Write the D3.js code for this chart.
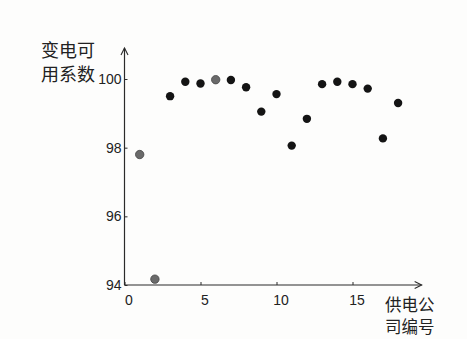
<!DOCTYPE html>
<html>
<head>
<meta charset="utf-8">
<script src="https://cdn.jsdelivr.net/npm/d3@7/dist/d3.min.js"></script>
<style>
  html, body { margin: 0; padding: 0; background: #fdfdfc; }
  svg { display: block; }
</style>
</head>
<body>
<svg id="chart" width="467" height="339"></svg>
<script>
// Transformer availability per power supply company
const companies = [1, 2, 3, 4, 5, 6, 7, 8, 9, 10, 11, 12, 13, 14, 15, 16, 17, 18];
const availability = [97.8, 94.17, 99.5, 99.92, 99.87, 99.98, 99.97, 99.76, 99.05, 99.56, 98.06, 98.84, 99.85, 99.92, 99.85, 99.72, 98.27, 99.3];
// companies drawn in a lighter grey
const lighter = [1, 2, 6];
const xTicks = [0, 5, 10, 15];
const yTicks = [94, 96, 98, 100];
const yTitle = ["变电可", "用系数"];
const xTitle = ["供电公", "司编号"];

const svg = d3.select("#chart");
const x = d3.scaleLinear().domain([0, 20]).range([124.5, 428.5]);
const y = d3.scaleLinear().domain([94, 100]).range([285, 79]);

const axisColor = "#2a2a2a";
const font = "'Liberation Sans', Arial, sans-serif";
const cjk = "'Noto Sans CJK SC', sans-serif";

// y axis with inward ticks
const yAxis = svg.append("g")
  .attr("transform", `translate(${x(0)},0)`)
  .call(d3.axisLeft(y).tickValues(yTicks).tickSize(-3).tickPadding(3).tickFormat(d3.format("d")));
yAxis.select(".domain").remove();
yAxis.selectAll(".tick line").attr("stroke", axisColor).attr("stroke-width", 1);
yAxis.selectAll(".tick text")
  .attr("fill", "#222").attr("font-family", font).attr("font-size", 14);

// x axis with inward ticks
const xAxis = svg.append("g")
  .attr("transform", `translate(0,${y(94)})`)
  .call(d3.axisBottom(x).tickValues(xTicks).tickSize(-3).tickPadding(10).tickFormat(d3.format("d")));
xAxis.select(".domain").remove();
xAxis.selectAll(".tick line").attr("stroke", axisColor).attr("stroke-width", 1);
xAxis.selectAll(".tick text")
  .attr("fill", "#222").attr("font-family", font).attr("font-size", 14)
  .attr("dx", 4);

// axis lines with open arrow heads
const yTop = y(100.9);
const xEnd = x(19.55);
svg.append("line").attr("x1", x(0)).attr("x2", x(0)).attr("y1", y(94)).attr("y2", yTop)
  .attr("stroke", axisColor).attr("stroke-width", 1.2);
svg.append("path")
  .attr("d", `M${x(0) - 3.5},${yTop + 7} L${x(0)},${yTop} L${x(0) + 3.5},${yTop + 7}`)
  .attr("fill", "none").attr("stroke", axisColor).attr("stroke-width", 1.1);
svg.append("line").attr("x1", x(0)).attr("x2", xEnd).attr("y1", y(94)).attr("y2", y(94))
  .attr("stroke", axisColor).attr("stroke-width", 1.2);
svg.append("path")
  .attr("d", `M${xEnd - 7},${y(94) - 3.5} L${xEnd},${y(94)} L${xEnd - 7},${y(94) + 3.5}`)
  .attr("fill", "none").attr("stroke", axisColor).attr("stroke-width", 1.1);

// axis titles, two lines each
svg.append("g").selectAll("text").data(yTitle).join("text")
  .attr("font-family", cjk).attr("font-size", 18).attr("fill", "#222")
  .attr("x", 41).attr("y", (d, i) => 57 + i * 24).text(d => d);
svg.append("g").selectAll("text").data(xTitle).join("text")
  .attr("font-family", cjk).attr("font-size", 16.5).attr("fill", "#222")
  .attr("x", 385).attr("y", (d, i) => 311 + i * 22).text(d => d);

// data points
svg.append("g").selectAll("circle")
  .data(companies.map((c, i) => ({ c, v: availability[i] })))
  .join("circle")
  .attr("cx", d => x(d.c))
  .attr("cy", d => y(d.v))
  .attr("r", 4.2)
  .attr("fill", d => lighter.includes(d.c) ? "#6a6a6a" : "#141414")
  .attr("stroke", d => lighter.includes(d.c) ? "#444" : "none")
  .attr("stroke-width", 0.8);
</script>
</body>
</html>
